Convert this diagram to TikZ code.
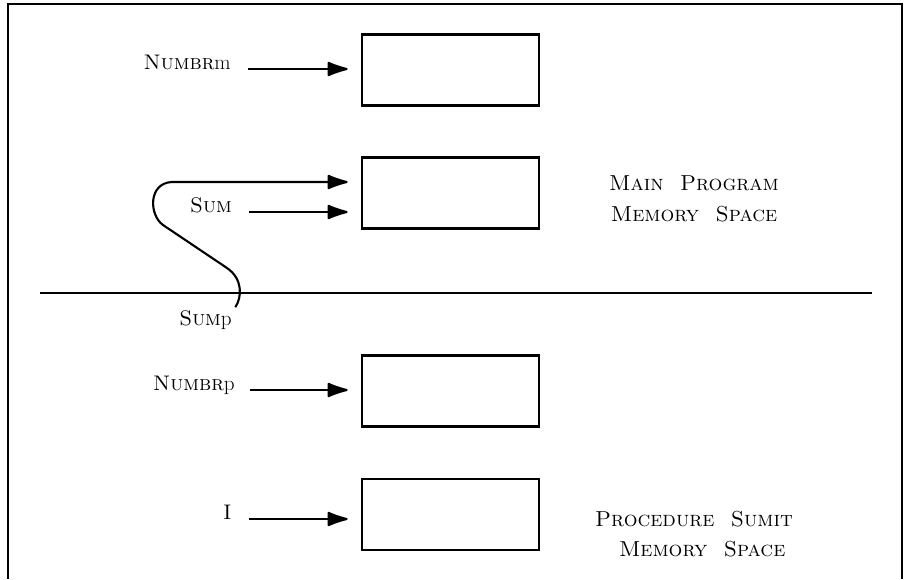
\documentclass[tikz,border=0pt]{standalone}
\usepackage{tikz}
\usetikzlibrary{arrows.meta, positioning, calc}
\tikzset{
    memcell/.style={draw, line width=2pt, minimum width=5.3cm, minimum height=2.13cm, inner sep=0pt},
    varlabel/.style={font=\fontsize{18}{21}\selectfont\scshape, inner sep=0pt},
    spacelabel/.style={font=\fontsize{18.5}{26}\selectfont\scshape, align=center, inner sep=0pt},
    refarrow/.style={-{Latex[length=0.72cm,width=0.47cm,round]}, line width=1.8pt, shorten >=0.4cm},
    divline/.style={line width=1.8pt}
}

\begin{document}
\begin{tikzpicture}[x=0.03cm, y=-0.03cm]
    \useasboundingbox (0,0) rectangle (904,579);
    \draw[line width=1.1pt] (8,579) |- (902,4) -- (902,579);

    % Memory cells
    \node[memcell] (cellnm) at (450.5,70) {};
    \node[memcell] (cellsum) at (450.5,193) {};
    \node[memcell] (cellnp) at (450.5,391) {};
    \node[memcell] (celli) at (450.5,514.5) {};

    % Names
    \node[varlabel, anchor=base east] (numm) at (231,69) {Numbr\textup{m}};
    \node[varlabel, anchor=base east] (sum) at (232,212) {Sum};
    \node[varlabel, anchor=base east] (sump) at (232,325) {Sum\textup{p}};
    \node[varlabel, anchor=base east] (nump) at (235,390) {Numbr\textup{p}};
    \node[varlabel, anchor=base east] (ivar) at (232,519) {I};

    % Boundary between the two spaces
    \coordinate (divl) at (40,293);
    \coordinate (divr) at (872,293);
    \draw[divline] (divl) -- (divr);

    % References
    \coordinate (loopy) at (0,182);
    \draw[refarrow] ([xshift=0.5cm]numm.base east) -- (numm.base -| cellnm.west);
    \draw[refarrow] ([xshift=0.5cm]sum.base east) -- (sum.base -| cellsum.west);
    \draw[refarrow] ([xshift=0.45cm]nump.base east) -- (nump.base -| cellnp.west);
    \draw[refarrow] ([xshift=0.5cm]ivar.base east) -- (ivar.base -| celli.west);
    \draw[refarrow] ([xshift=0.1cm,yshift=0.08cm]sump.north east)
        .. controls (242,297) and (243,279) .. (227,268)
        -- (163,225) .. controls (149,215) and (148,183) .. (172,182)
        -- (loopy -| cellsum.west);

    % Space names
    \node[spacelabel] (mainsp) at (694,199) {Main\ \ Program\\Memory\ \ Space};
    \node[spacelabel] (procsp) at (694,534) {Procedure\ \ Sumit\\\ \ Memory\ \ Space};
\end{tikzpicture}
\end{document}
